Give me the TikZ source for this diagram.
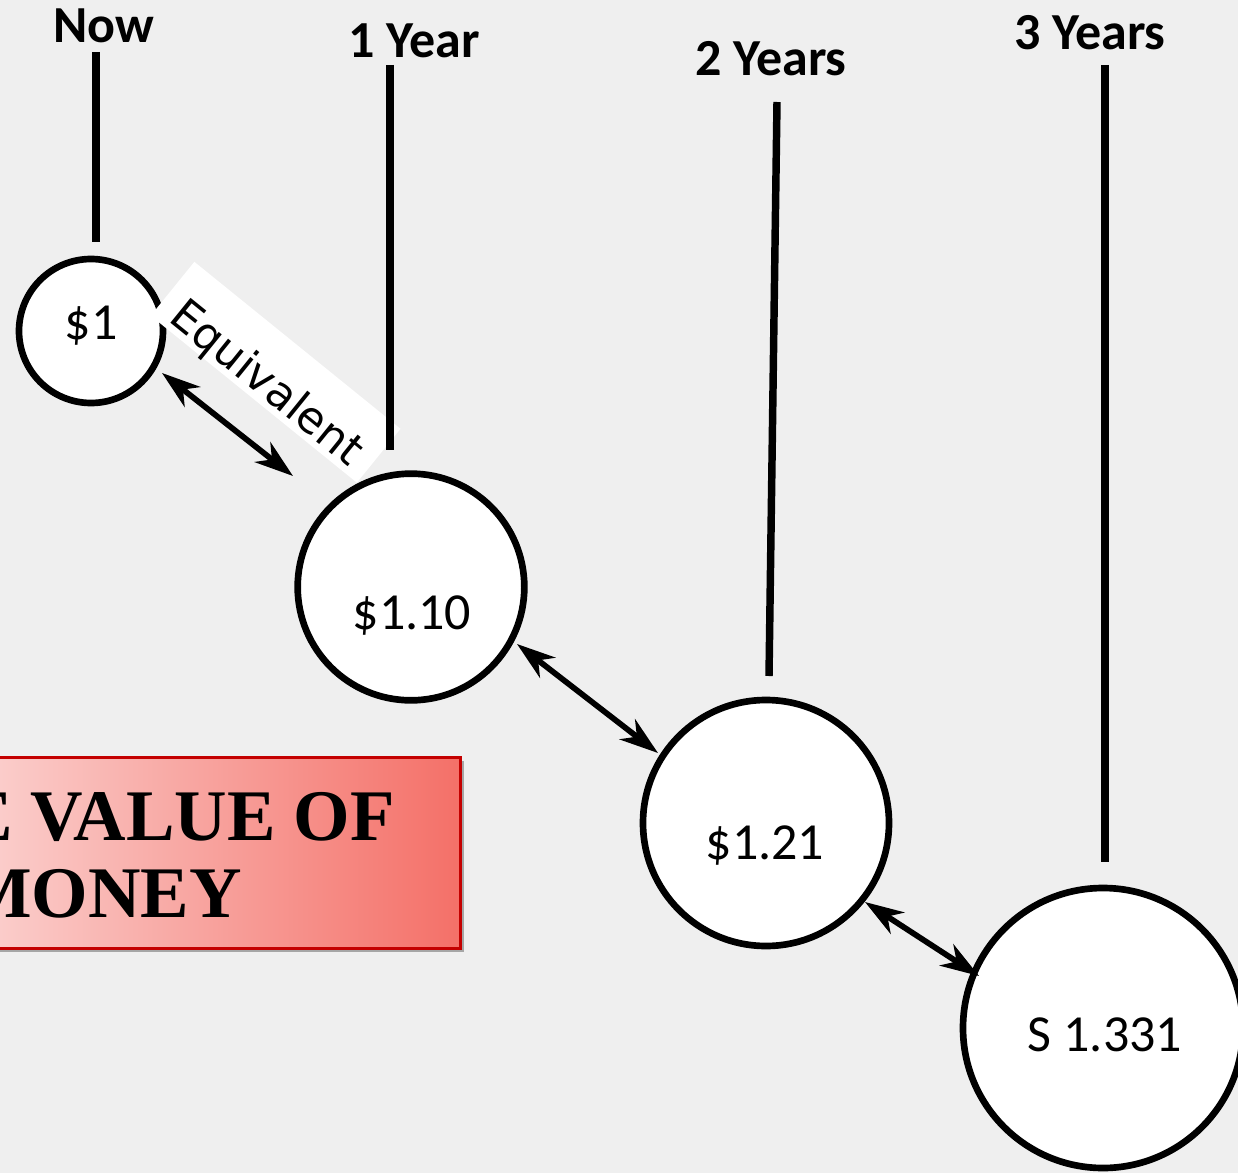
\documentclass[tikz,border=0pt]{standalone}
\usepackage{fontspec}
\setmainfont{Carlito}
\newfontfamily\dejavu{DejaVu Sans}
\newfontfamily\serifbold{Liberation Serif}
\usetikzlibrary{arrows.meta}
\definecolor{bgc}{RGB}{239,239,239}
\definecolor{boxl}{RGB}{251,208,206}
\definecolor{boxr}{RGB}{244,112,104}
\definecolor{boxb}{RGB}{196,0,0}
\begin{document}
\begin{tikzpicture}[x=0.75pt,y=-0.75pt,
  title/.style={font=\fontsize{39}{44}\selectfont\bfseries, anchor=base, inner sep=0pt},
  amount/.style={font=\fontsize{39}{44}\selectfont, anchor=base, inner sep=0pt},
  coin/.style={circle, draw=black, line width=5pt, fill=white, inner sep=0pt},
  tick/.style={line width=5.6pt},
  dbl/.style={line width=4.3pt, {Stealth[length=29pt,width=19pt,inset=9pt]}-{Stealth[length=29pt,width=19pt,inset=9pt]}},
  bigtext/.style={font=\serifbold\bfseries\fontsize{54.5}{60}\selectfont, anchor=base east, inner sep=0pt}
]
\clip (0,0) rectangle (1238,1173);
\fill[bgc] (0,0) rectangle (1238,1173);

% titles
\node[title] (tnow) at (104,43) {Now};
\node[title] (t1) at (414,58) {1 Year};
\node[title] (t2) at (771,76) {2 Years};
\node[title] (t3) at (1090,50) {3 Years};

% circles
\node[coin, minimum size=108pt] (c0) at (91,331) {};
\node[coin, minimum size=170pt] (c1) at (411,587) {};
\node[coin, minimum size=184.5pt] (c2) at (766,823) {};
\node[coin, minimum size=210pt] (c3) at (1103,1028) {};

\node[amount] (v0) at (91,339) {\$1};
\node[amount] (v1) at (412,629) {\$1.10};
\node[amount] (v2) at (765,859) {\$1.21};
\node[amount] (v3) at (1105,1051) {S 1.331};

% equivalent label
\node[fill=white, rotate=-39, anchor=base, font=\dejavu\fontsize{33}{36}\selectfont,
      inner xsep=12pt, inner ysep=0pt, text height=47pt, text depth=5pt] (eq) at (258,394) {Equivalent};

% vertical lines
\coordinate (l0a) at (96,52);   \coordinate (l0b) at (96,242);
\coordinate (l1a) at (390,65);  \coordinate (l1b) at (390,450);
\coordinate (l2a) at (777,102); \coordinate (l2b) at (769,676);
\coordinate (l3a) at (1105,65); \coordinate (l3b) at (1105,862);
\draw[tick] (l0a) -- (l0b);
\draw[tick] (l1a) -- (l1b);
\draw[tick] (l2a) -- (l2b);
\draw[tick] (l3a) -- (l3b);

% arrows
\coordinate (a0) at (162,373); \coordinate (a1) at (293,476);
\coordinate (b0) at (517,644); \coordinate (b1) at (658,753);
\coordinate (d0) at (865,902); \coordinate (d1) at (979,976);
\draw[dbl] (a0) -- (a1);
\draw[dbl] (b0) -- (b1);
\draw[dbl] (d0) -- (d1);

% red title box
\fill[black!35] (-16,761) rectangle (464,952);
\shade[left color=boxl, right color=boxr] (-20,757) rectangle (460,948);
\draw[boxb, line width=2.25pt] (-20,757) rectangle (460,948);
\node[bigtext] (bt1) at (395,840) {E VALUE OF};
\node[bigtext] (bt2) at (242,917) {MONEY};
\end{tikzpicture}
\end{document}
